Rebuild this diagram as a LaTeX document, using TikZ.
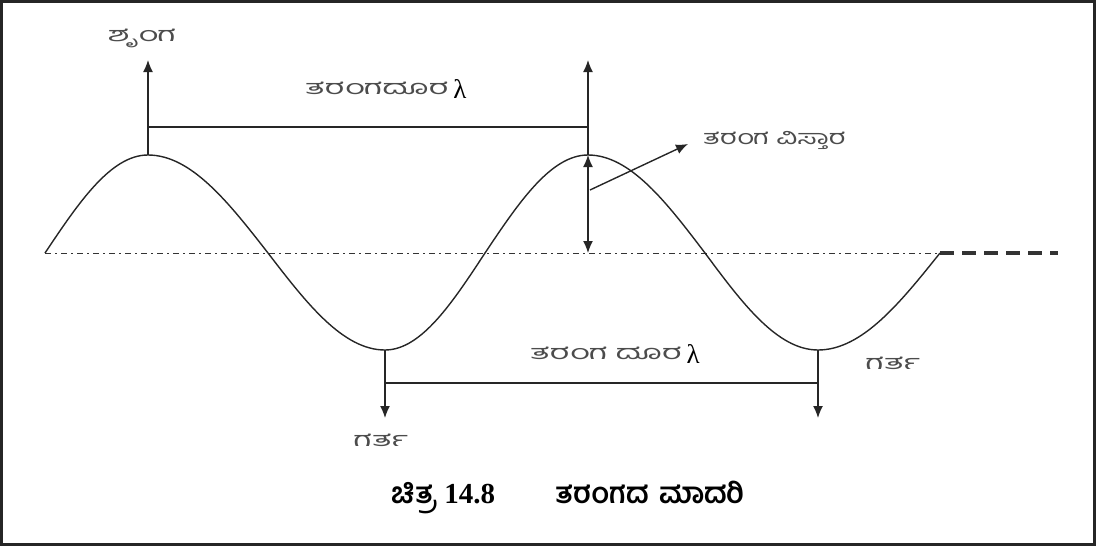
\documentclass[tikz,border=0pt]{standalone}
\usepackage{fontspec}
\setmainfont{Liberation Serif}
\newfontfamily\kn[Script=Kannada]{Hind Mysuru}
\usetikzlibrary{arrows.meta}
\newcommand{\wide}[2][1.7]{\scalebox{#1}[1]{#2}}
\tikzset{
  ln/.style={line width=1.4pt, draw=black!85},
  tip/.tip={Latex[length=12pt,width=10pt]},
  arr/.style={ln, -tip},
  lbl/.style={font=\kn\fontsize{20}{20}\selectfont, inner sep=0pt, text=black!70},
  lam/.style={font=\fontsize{27}{27}\selectfont, inner sep=0pt},
}
\begin{document}
\begin{tikzpicture}[x=1pt,y=-1pt]
\useasboundingbox (0,0) rectangle (1096,546);
\draw[line width=2.5pt, black!85] (1.5,1.5) rectangle (1094.5,544.5);
% wave points
\coordinate (s) at (45,253);
\coordinate (c1) at (148,155);
\coordinate (z1) at (268,253);
\coordinate (t1) at (385,350);
\coordinate (z2) at (485,253);
\coordinate (c2) at (588,155);
\coordinate (z3) at (705,253);
\coordinate (t2) at (818,350);
\coordinate (e) at (940,253);
\coordinate (ee) at (1058,253);
% axis
\draw[line width=1pt, black!80, dash pattern=on 6pt off 4pt on 2pt off 4pt] (s) -- (e);
\draw[line width=3.5pt, black!80, dash pattern=on 14pt off 8pt] (e) -- (ee);
% wave
\draw[ln] (s) sin (c1) cos (z1) sin (t1) cos (z2) sin (c2) cos (z3) sin (t2) cos (e);
% crest arrow
\coordinate (c1top) at (148,60);
\draw[arr] (c1) -- (c1top);
\node[lbl] (crest) at (142,38) {\wide{ಶೃಂಗ}};
% wavelength top
\coordinate (c2top) at (588,60);
\coordinate (c1w) at (148,127);
\coordinate (c2w) at (588,127);
\draw[ln] (c1w) -- (c2w);
\draw[arr] (c2) -- (c2top);
\node[lbl, anchor=west] (wl1) at (305,88) {\wide{ತರಂಗದೂರ}};
\node[lam, anchor=west] (lam1) at ([yshift=-1pt]wl1.east) {\,λ};
% amplitude
\coordinate (ax) at (588,253);
\draw[ln, tip-tip] (c2) -- (ax);
\coordinate (amfrom) at (590,190);
\coordinate (amto) at (688,144);
\draw[arr] (amfrom) -- (amto);
\node[lbl, anchor=west] (amp) at (703,140) {\wide[1.45]{ತರಂಗ ವಿಸ್ತಾರ}};
% troughs
\coordinate (t1b) at (385,418);
\coordinate (t2b) at (818,418);
\draw[arr] (t1) -- (t1b);
\draw[arr] (t2) -- (t2b);
\coordinate (t1w) at (385,383);
\coordinate (t2w) at (818,383);
\draw[ln] (t1w) -- (t2w);
\node[lbl, anchor=west] (wl2) at (530,353) {\wide{ತರಂಗ ದೂರ}};
\node[lam, anchor=west] (lam2) at ([yshift=-1pt]wl2.east) {\,λ};
\node[lbl] (tr1) at (381,440) {\wide{ಗರ್ತ}};
\node[lbl] (tr2) at (893,363) {\wide{ಗರ್ತ}};
% caption
\node[inner sep=0pt, font=\bfseries\fontsize{29}{29}\selectfont] (cap) at (568,497) {{\kn ಚಿತ್ರ} 14.8\hspace{2.1em}{\kn ತರಂಗದ\hspace{0.35em}ಮಾದರಿ}};
\end{tikzpicture}
\end{document}
